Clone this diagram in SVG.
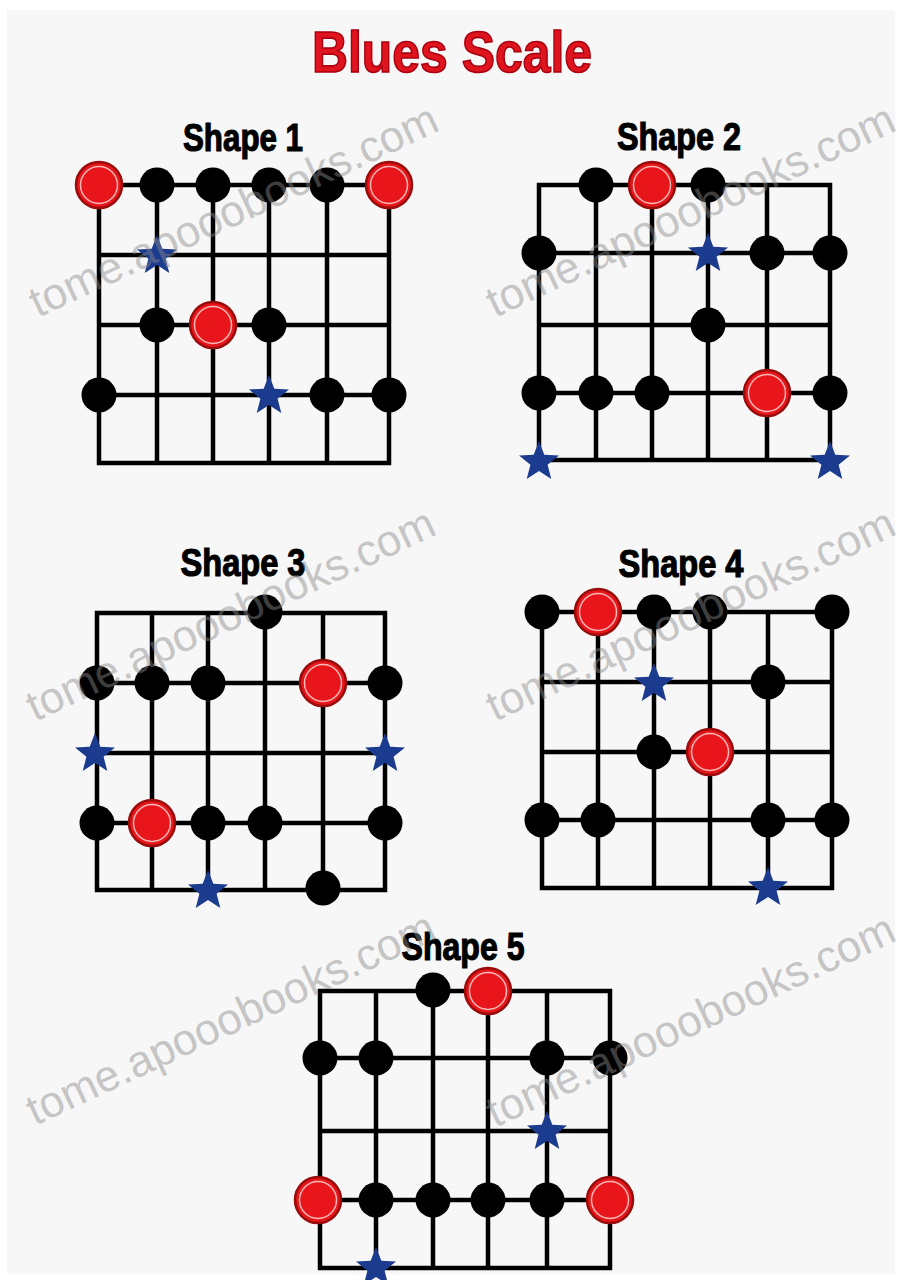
<svg xmlns="http://www.w3.org/2000/svg" xmlns:xlink="http://www.w3.org/1999/xlink" width="902" height="1280" viewBox="0 0 902 1280">
<style>
.grid{stroke:#000;stroke-width:4.5;fill:none;stroke-linecap:square}
.lbl{font-family:"Liberation Sans Narrow","Liberation Sans",Arial,sans-serif;font-weight:bold;font-size:39px;fill:#000;stroke:#000;stroke-width:1.2;text-anchor:middle}
.title{font-family:"Liberation Sans Narrow","Liberation Sans",Arial,sans-serif;font-weight:bold;font-size:58px;fill:#e0141e;stroke:#a8000e;stroke-width:1.6;text-anchor:middle}
.wm{font-family:"Liberation Sans",Arial,sans-serif;font-size:44px;fill:#8a8a8a;opacity:0.45}
</style>
<defs>
<circle id="b" r="17.5" fill="#000"/>
<g id="r">
<circle r="23" fill="#e8161a" stroke="#9a0c0c" stroke-width="2.5"/>
<circle r="18.5" fill="none" stroke="#f7b8b8" stroke-width="1.5"/>
</g>
<path id="s" fill="#1b3b8e" d="M0,-21 L5.3,-7.3 L20,-6.5 L8.6,2.8 L12.3,17 L0,9 L-12.3,17 L-8.6,2.8 L-20,-6.5 L-5.3,-7.3 Z"/>
</defs>
<rect x="0" y="0" width="902" height="1280" fill="#ffffff"/>
<rect x="7" y="10" width="888" height="1264" fill="#f7f7f7"/>
<text class="title" x="452" y="72" textLength="280" lengthAdjust="spacingAndGlyphs">Blues Scale</text>

<g id="shape1">
<text class="lbl" x="243" y="151" textLength="120" lengthAdjust="spacingAndGlyphs">Shape 1</text>
<path class="grid" d="M99,185H389M99,255H389M99,325H389M99,395H389M99,463H389M99,185V463M157,185V463M213,185V463M269,185V463M327,185V463M389,185V463"/>
<use xlink:href="#r" x="99" y="185"/><use xlink:href="#b" x="157" y="185"/><use xlink:href="#b" x="213" y="185"/><use xlink:href="#b" x="269" y="185"/><use xlink:href="#b" x="327" y="185"/><use xlink:href="#r" x="389" y="185"/>
<use xlink:href="#s" x="157" y="256"/>
<use xlink:href="#b" x="157" y="325"/><use xlink:href="#r" x="213" y="325"/><use xlink:href="#b" x="269" y="325"/>
<use xlink:href="#b" x="99" y="395"/><use xlink:href="#s" x="269" y="396"/><use xlink:href="#b" x="327" y="395"/><use xlink:href="#b" x="389" y="395"/>
</g>

<g id="shape2">
<text class="lbl" x="679" y="150" textLength="124" lengthAdjust="spacingAndGlyphs">Shape 2</text>
<path class="grid" d="M539,185H830M539,253H830M539,325H830M539,393H830M539,460H830M539,185V460M596,185V460M652,185V460M708,185V460M767,185V460M830,185V460"/>
<use xlink:href="#b" x="596" y="185"/><use xlink:href="#r" x="652" y="185"/><use xlink:href="#b" x="708" y="185"/>
<use xlink:href="#b" x="539" y="253"/><use xlink:href="#s" x="708" y="254"/><use xlink:href="#b" x="767" y="253"/><use xlink:href="#b" x="830" y="253"/>
<use xlink:href="#b" x="708" y="325"/>
<use xlink:href="#b" x="539" y="393"/><use xlink:href="#b" x="596" y="393"/><use xlink:href="#b" x="652" y="393"/><use xlink:href="#r" x="767" y="393"/><use xlink:href="#b" x="830" y="393"/>
<use xlink:href="#s" x="539" y="462"/><use xlink:href="#s" x="830" y="462"/>
</g>

<g id="shape3">
<text class="lbl" x="243" y="576" textLength="125" lengthAdjust="spacingAndGlyphs">Shape 3</text>
<path class="grid" d="M97,613H385M97,683H385M97,753H385M97,823H385M97,890H385M97,613V890M152,613V890M208,613V890M265,613V890M323,613V890M385,613V890"/>
<use xlink:href="#b" x="265" y="612"/>
<use xlink:href="#b" x="97" y="683"/><use xlink:href="#b" x="152" y="683"/><use xlink:href="#b" x="208" y="683"/><use xlink:href="#r" x="323" y="683"/><use xlink:href="#b" x="385" y="683"/>
<use xlink:href="#s" x="95" y="754"/><use xlink:href="#s" x="385" y="754"/>
<use xlink:href="#b" x="97" y="823"/><use xlink:href="#r" x="152" y="823"/><use xlink:href="#b" x="208" y="823"/><use xlink:href="#b" x="265" y="823"/><use xlink:href="#b" x="385" y="823"/>
<use xlink:href="#s" x="208" y="891"/><use xlink:href="#b" x="323" y="888"/>
</g>

<g id="shape4">
<text class="lbl" x="681" y="577" textLength="125" lengthAdjust="spacingAndGlyphs">Shape 4</text>
<path class="grid" d="M542,612H832M542,682H832M542,752H832M542,820H832M542,888H832M542,612V888M598,612V888M654,612V888M710,612V888M768,612V888M832,612V888"/>
<use xlink:href="#b" x="542" y="612"/><use xlink:href="#r" x="598" y="612"/><use xlink:href="#b" x="654" y="612"/><use xlink:href="#b" x="710" y="612"/><use xlink:href="#b" x="832" y="612"/>
<use xlink:href="#s" x="654" y="684"/><use xlink:href="#b" x="768" y="682"/>
<use xlink:href="#b" x="654" y="752"/><use xlink:href="#r" x="710" y="752"/>
<use xlink:href="#b" x="542" y="820"/><use xlink:href="#b" x="598" y="820"/><use xlink:href="#b" x="768" y="820"/><use xlink:href="#b" x="832" y="820"/>
<use xlink:href="#s" x="768" y="888"/>
</g>

<g id="shape5">
<text class="lbl" x="463" y="960" textLength="123" lengthAdjust="spacingAndGlyphs">Shape 5</text>
<path class="grid" d="M320,991H610M320,1058H610M320,1131H610M320,1200H610M320,1268H610M320,991V1268M376,991V1268M433,991V1268M488,991V1268M547,991V1268M610,991V1268"/>
<use xlink:href="#b" x="433" y="990"/><use xlink:href="#r" x="488" y="991"/>
<use xlink:href="#b" x="320" y="1058"/><use xlink:href="#b" x="376" y="1058"/><use xlink:href="#b" x="547" y="1058"/><use xlink:href="#b" x="610" y="1058"/>
<use xlink:href="#s" x="547" y="1132"/>
<use xlink:href="#r" x="318" y="1200"/><use xlink:href="#b" x="376" y="1200"/><use xlink:href="#b" x="433" y="1200"/><use xlink:href="#b" x="488" y="1200"/><use xlink:href="#b" x="547" y="1200"/><use xlink:href="#r" x="610" y="1200"/>
<use xlink:href="#s" x="376" y="1268"/>
</g>

<g id="watermarks">
<text class="wm" transform="translate(38,318) rotate(-25)">tome.apooobooks.com</text>
<text class="wm" transform="translate(495,318) rotate(-25)">tome.apooobooks.com</text>
<text class="wm" transform="translate(35,722) rotate(-25)">tome.apooobooks.com</text>
<text class="wm" transform="translate(495,722) rotate(-25)">tome.apooobooks.com</text>
<text class="wm" transform="translate(35,1126) rotate(-25)">tome.apooobooks.com</text>
<text class="wm" transform="translate(495,1128) rotate(-25)">tome.apooobooks.com</text>
</g>
</svg>
